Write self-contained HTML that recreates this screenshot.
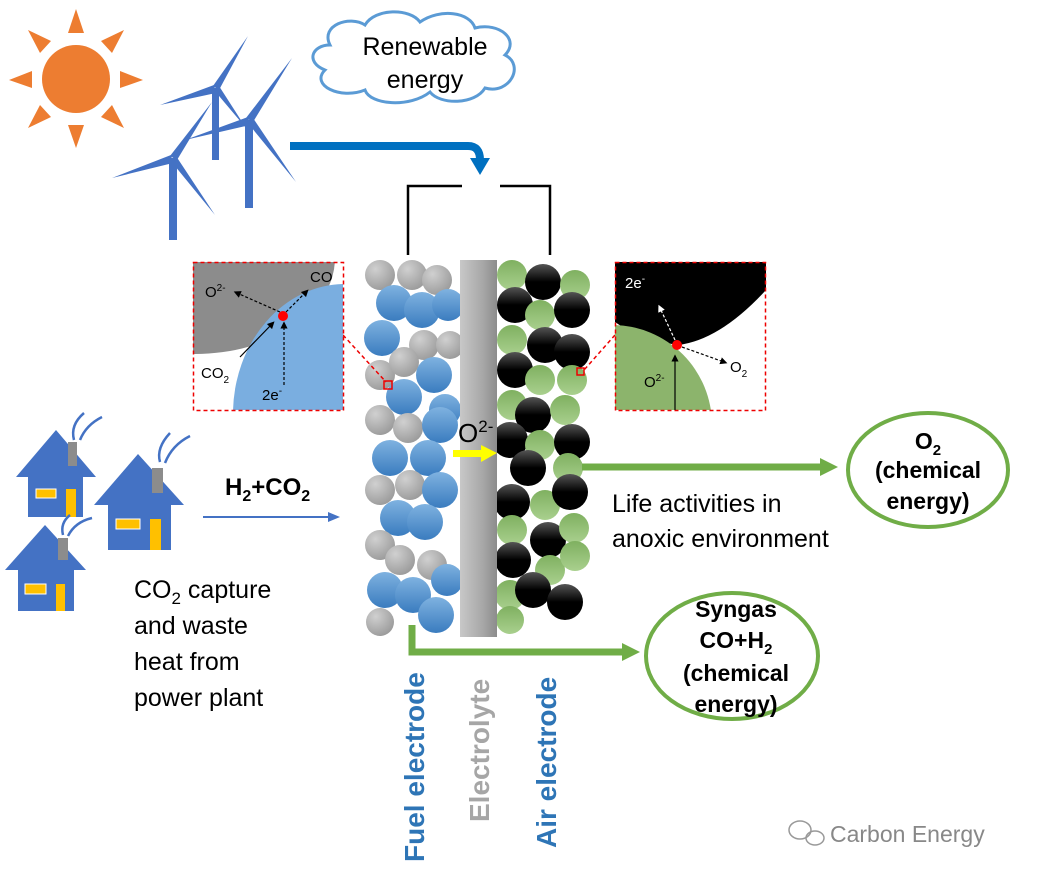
<!DOCTYPE html>
<html><head><meta charset="utf-8"><style>
body{margin:0;background:#fff}
svg{display:block;font-family:"Liberation Sans",Arial,sans-serif}
</style></head><body>
<svg width="1037" height="883" viewBox="0 0 1037 883" xmlns="http://www.w3.org/2000/svg">
<defs>
<radialGradient id="gg" cx="0.35" cy="0.3" r="0.75"><stop offset="0" stop-color="#d0d0d0"/><stop offset="1" stop-color="#9a9a9a"/></radialGradient>
<linearGradient id="bg" x1="0" y1="0" x2="0" y2="1"><stop offset="0" stop-color="#7fb2e0"/><stop offset="1" stop-color="#3a7cbf"/></linearGradient>
<linearGradient id="kg" x1="0" y1="0" x2="0" y2="1"><stop offset="0" stop-color="#555"/><stop offset="0.5" stop-color="#000"/></linearGradient>
<linearGradient id="ng" x1="0" y1="0" x2="0" y2="1"><stop offset="0" stop-color="#7fb060"/><stop offset="1" stop-color="#a9d08e"/></linearGradient>
<linearGradient id="el" x1="0" y1="0" x2="1" y2="0"><stop offset="0" stop-color="#c8c8c8"/><stop offset="0.6" stop-color="#a8a8a8"/><stop offset="1" stop-color="#8c8c8c"/></linearGradient>
<marker id="ab" markerWidth="6" markerHeight="6" refX="3" refY="3" orient="auto"><path d="M0,0L6,3L0,6z" fill="#000"/></marker>
<marker id="aw" markerWidth="6" markerHeight="6" refX="3" refY="3" orient="auto"><path d="M0,0L6,3L0,6z" fill="#fff"/></marker>
</defs>

<!-- sun -->
<circle cx="76" cy="79" r="34" fill="#ed7d31"/>
<g fill="#ed7d31">
<polygon points="68,33 84,33 76,9"/><polygon points="68,125 84,125 76,148"/>
<polygon points="32,71 32,88 9,80"/><polygon points="120,71 120,88 143,80"/>
<polygon points="51,41 40,53 28,30"/><polygon points="101,41 112,53 124,30"/>
<polygon points="51,117 40,105 28,128"/><polygon points="101,117 112,105 124,128"/>
</g>
<!-- turbines -->
<g fill="#4472c4">
<rect x="212" y="88" width="7" height="72"/>
<polygon points="213,86 219,90 248,36"/><polygon points="214,85 216,93 160,105"/><polygon points="214,90 219,86 246,128"/>
<rect x="245" y="120" width="8" height="88"/>
<polygon points="246,118 253,122 292,58"/><polygon points="248,117 250,125 185,140"/><polygon points="247,122 253,118 296,182"/>
<rect x="169" y="158" width="8" height="82"/>
<polygon points="170,156 177,160 212,102"/><polygon points="171,155 173,163 112,178"/><polygon points="170,160 176,156 215,215"/>
</g>
<!-- cloud -->
<path d="M330,45 C320,25 350,15 365,25 C375,8 410,8 420,22 C440,8 470,12 475,28 C500,22 520,40 505,55 C525,65 510,95 485,88 C475,105 440,105 430,92 C410,108 370,105 365,90 C340,100 310,85 325,70 C305,62 312,45 330,45Z" fill="#fff" stroke="#5b9bd5" stroke-width="3"/>
<text x="425" y="55" font-size="25" text-anchor="middle">Renewable</text>
<text x="425" y="88" font-size="25" text-anchor="middle">energy</text>
<!-- blue arrow -->
<path d="M290,146 L468,146 Q480,146 480,160" stroke="#0070c0" stroke-width="8" fill="none"/>
<polygon points="470,158 490,158 480,175" fill="#0070c0"/>
<!-- bracket -->
<path d="M408,255 L408,186 L462,186 M500,186 L550,186 L550,255" stroke="#000" stroke-width="2.5" fill="none"/>

<!-- fuel electrode particles -->
<g>
<circle cx="380" cy="275" r="15" fill="url(#gg)"/><circle cx="412" cy="275" r="15" fill="url(#gg)"/><circle cx="437" cy="280" r="15" fill="url(#gg)"/>
<circle cx="394" cy="303" r="18" fill="url(#bg)"/><circle cx="422" cy="310" r="18" fill="url(#bg)"/><circle cx="448" cy="305" r="16" fill="url(#bg)"/>
<circle cx="382" cy="338" r="18" fill="url(#bg)"/><circle cx="424" cy="345" r="15" fill="url(#gg)"/><circle cx="450" cy="345" r="14" fill="url(#gg)"/>
<circle cx="380" cy="375" r="15" fill="url(#gg)"/><circle cx="404" cy="362" r="15" fill="url(#gg)"/><circle cx="434" cy="375" r="18" fill="url(#bg)"/>
<circle cx="404" cy="397" r="18" fill="url(#bg)"/><circle cx="445" cy="410" r="16" fill="url(#bg)"/>
<circle cx="380" cy="420" r="15" fill="url(#gg)"/><circle cx="408" cy="428" r="15" fill="url(#gg)"/><circle cx="440" cy="425" r="18" fill="url(#bg)"/>
<circle cx="390" cy="458" r="18" fill="url(#bg)"/><circle cx="428" cy="458" r="18" fill="url(#bg)"/>
<circle cx="380" cy="490" r="15" fill="url(#gg)"/><circle cx="410" cy="485" r="15" fill="url(#gg)"/><circle cx="440" cy="490" r="18" fill="url(#bg)"/>
<circle cx="398" cy="518" r="18" fill="url(#bg)"/><circle cx="425" cy="522" r="18" fill="url(#bg)"/>
<circle cx="380" cy="545" r="15" fill="url(#gg)"/><circle cx="400" cy="560" r="15" fill="url(#gg)"/><circle cx="432" cy="565" r="15" fill="url(#gg)"/>
<circle cx="385" cy="590" r="18" fill="url(#bg)"/><circle cx="413" cy="595" r="18" fill="url(#bg)"/><circle cx="447" cy="580" r="16" fill="url(#bg)"/>
<circle cx="380" cy="622" r="14" fill="url(#gg)"/><circle cx="436" cy="615" r="18" fill="url(#bg)"/>
</g>
<!-- air electrode particles -->
<g>
<circle cx="512" cy="275" r="15" fill="url(#ng)"/><circle cx="543" cy="282" r="18" fill="url(#kg)"/><circle cx="575" cy="285" r="15" fill="url(#ng)"/>
<circle cx="515" cy="305" r="18" fill="url(#kg)"/><circle cx="540" cy="315" r="15" fill="url(#ng)"/><circle cx="572" cy="310" r="18" fill="url(#kg)"/>
<circle cx="512" cy="340" r="15" fill="url(#ng)"/><circle cx="545" cy="345" r="18" fill="url(#kg)"/><circle cx="572" cy="352" r="18" fill="url(#kg)"/>
<circle cx="515" cy="370" r="18" fill="url(#kg)"/><circle cx="540" cy="380" r="15" fill="url(#ng)"/><circle cx="572" cy="380" r="15" fill="url(#ng)"/>
<circle cx="512" cy="405" r="15" fill="url(#ng)"/><circle cx="533" cy="415" r="18" fill="url(#kg)"/><circle cx="565" cy="410" r="15" fill="url(#ng)"/>
<circle cx="510" cy="440" r="18" fill="url(#kg)"/><circle cx="540" cy="445" r="15" fill="url(#ng)"/><circle cx="572" cy="442" r="18" fill="url(#kg)"/>
<circle cx="528" cy="468" r="18" fill="url(#kg)"/><circle cx="568" cy="468" r="15" fill="url(#ng)"/>
<circle cx="512" cy="502" r="18" fill="url(#kg)"/><circle cx="545" cy="505" r="15" fill="url(#ng)"/><circle cx="570" cy="492" r="18" fill="url(#kg)"/>
<circle cx="512" cy="530" r="15" fill="url(#ng)"/><circle cx="548" cy="540" r="18" fill="url(#kg)"/><circle cx="574" cy="528" r="15" fill="url(#ng)"/>
<circle cx="513" cy="560" r="18" fill="url(#kg)"/><circle cx="550" cy="570" r="15" fill="url(#ng)"/><circle cx="575" cy="556" r="15" fill="url(#ng)"/>
<circle cx="510" cy="595" r="15" fill="url(#ng)"/><circle cx="533" cy="590" r="18" fill="url(#kg)"/><circle cx="565" cy="602" r="18" fill="url(#kg)"/><circle cx="510" cy="620" r="14" fill="url(#ng)"/>
</g>
<!-- electrolyte -->
<rect x="460" y="260" width="37" height="377" fill="url(#el)"/>
<text x="458" y="442" font-size="26">O<tspan font-size="17" dy="-10">2-</tspan></text>
<rect x="453" y="450" width="30" height="7" fill="#ffff00"/><polygon points="481,445 481,462 497,453" fill="#ffff00"/>

<!-- tiny red squares -->
<rect x="384" y="381" width="8" height="8" fill="none" stroke="#e00" stroke-width="1.5"/>
<rect x="577" y="368" width="7" height="7" fill="none" stroke="#e00" stroke-width="1.5"/>
<line x1="343" y1="335" x2="386" y2="382" stroke="#e00" stroke-width="1.5" stroke-dasharray="4,3"/>
<line x1="615" y1="335" x2="584" y2="370" stroke="#e00" stroke-width="1.5" stroke-dasharray="4,3"/>

<!-- left inset -->
<svg x="193" y="262" width="150" height="148" viewBox="193 262 150 148">
<rect x="193" y="262" width="150" height="148" fill="#fff"/>
<ellipse cx="195" cy="258" rx="140" ry="96" fill="#8c8c8c"/>
<ellipse cx="345" cy="414" rx="112" ry="130" fill="#7aaee0"/>
</svg>
<rect x="193.5" y="262.5" width="150" height="148" fill="none" stroke="#e00" stroke-width="1.5" stroke-dasharray="4,3"/>
<g stroke="#000" stroke-width="1.2" fill="none">
<line x1="280" y1="312" x2="237" y2="293" stroke-dasharray="3,2" marker-end="url(#ab)"/>
<line x1="286" y1="312" x2="306" y2="292" stroke-dasharray="3,2" marker-end="url(#ab)"/>
<line x1="284" y1="385" x2="284" y2="325" stroke-dasharray="3,2" marker-end="url(#ab)"/>
<line x1="240" y1="357" x2="272" y2="324" marker-end="url(#ab)"/>
</g>
<circle cx="283" cy="316" r="5" fill="#f00"/>
<text x="205" y="297" font-size="15">O<tspan font-size="10" dy="-6">2-</tspan></text>
<text x="310" y="282" font-size="15">CO</text>
<text x="201" y="378" font-size="15">CO<tspan font-size="10" dy="5">2</tspan></text>
<text x="262" y="400" font-size="15">2e<tspan font-size="10" dy="-6">-</tspan></text>

<!-- right inset -->
<svg x="615" y="262" width="151" height="148" viewBox="615 262 151 148">
<rect x="615" y="262" width="151" height="148" fill="#fff"/>
<path d="M615,262 L766,262 L766,290 Q720,340 678,345 Q640,340 615,322Z" fill="#000"/>
<circle cx="612" cy="425" r="100" fill="#8cb46c"/>
</svg>
<rect x="615.5" y="262.5" width="150" height="148" fill="none" stroke="#e00" stroke-width="1.5" stroke-dasharray="4,3"/>
<g stroke-width="1.2" fill="none">
<line x1="675" y1="340" x2="660" y2="308" stroke="#fff" stroke-dasharray="3,2" marker-end="url(#aw)"/>
<line x1="682" y1="347" x2="724" y2="362" stroke="#000" stroke-dasharray="3,2" marker-end="url(#ab)"/>
<line x1="675" y1="410" x2="675" y2="358" stroke="#000" marker-end="url(#ab)"/>
</g>
<circle cx="677" cy="345" r="5" fill="#f00"/>
<text x="625" y="288" font-size="15" fill="#fff">2e<tspan font-size="10" dy="-6">-</tspan></text>
<text x="730" y="372" font-size="15">O<tspan font-size="10" dy="5">2</tspan></text>
<text x="644" y="387" font-size="15">O<tspan font-size="10" dy="-6">2-</tspan></text>

<!-- houses -->
<g>
<polygon points="56,430 16,477 96,477" fill="#4472c4"/><rect x="28" y="475" width="55" height="42" fill="#4472c4"/>
<rect x="68" y="442" width="9" height="24" fill="#8c8c8c"/><rect x="36" y="489" width="20" height="9" fill="#ffc000" stroke="#fff"/><rect x="66" y="489" width="10" height="28" fill="#ffc000"/>
<polygon points="138,454 94,505 184,505" fill="#4472c4"/><rect x="108" y="503" width="63" height="47" fill="#4472c4"/>
<rect x="152" y="468" width="11" height="25" fill="#8c8c8c"/><rect x="116" y="519" width="24" height="10" fill="#ffc000" stroke="#fff"/><rect x="150" y="519" width="11" height="31" fill="#ffc000"/>
<polygon points="45,525 5,570 86,570" fill="#4472c4"/><rect x="18" y="568" width="56" height="43" fill="#4472c4"/>
<rect x="58" y="538" width="10" height="22" fill="#8c8c8c"/><rect x="25" y="584" width="21" height="10" fill="#ffc000" stroke="#fff"/><rect x="56" y="584" width="9" height="27" fill="#ffc000"/>
<g stroke="#4472c4" stroke-width="2.5" fill="none">
<path d="M74,440 Q70,425 84,413"/><path d="M80,440 Q86,425 102,417"/>
<path d="M160,462 Q156,448 170,433"/><path d="M165,463 Q172,445 190,436"/>
<path d="M63,535 Q60,523 70,515"/><path d="M68,536 Q75,522 92,518"/>
</g>
</g>
<text x="225" y="495" font-size="24" font-weight="bold">H<tspan font-size="16" dy="6">2</tspan><tspan dy="-6">+CO</tspan><tspan font-size="16" dy="6">2</tspan></text>
<line x1="203" y1="517" x2="330" y2="517" stroke="#4472c4" stroke-width="2"/><polygon points="328,512 340,517 328,522" fill="#4472c4"/>
<g font-size="25">
<text x="134" y="598">CO<tspan font-size="17" dy="6">2</tspan><tspan dy="-6"> capture</tspan></text>
<text x="134" y="634">and waste</text>
<text x="134" y="670">heat from</text>
<text x="134" y="706">power plant</text>
</g>

<!-- right side -->
<line x1="582" y1="467" x2="822" y2="467" stroke="#70ad47" stroke-width="7"/><polygon points="820,458 838,467 820,476" fill="#70ad47"/>
<text x="612" y="512" font-size="25">Life activities in</text>
<text x="612" y="547" font-size="25">anoxic environment</text>
<ellipse cx="928" cy="470" rx="80" ry="57" fill="#fff" stroke="#70ad47" stroke-width="4"/>
<g font-size="23" font-weight="bold" text-anchor="middle">
<text x="928" y="449">O<tspan font-size="15" dy="6">2</tspan></text>
<text x="928" y="478">(chemical</text>
<text x="928" y="509">energy)</text>
</g>
<path d="M412,625 L412,652 L625,652" stroke="#70ad47" stroke-width="7" fill="none"/><polygon points="622,643 640,652 622,661" fill="#70ad47"/>
<ellipse cx="732" cy="656" rx="86" ry="63" fill="#fff" stroke="#70ad47" stroke-width="4"/>
<g font-size="23" font-weight="bold" text-anchor="middle">
<text x="736" y="617">Syngas</text>
<text x="736" y="648">CO+H<tspan font-size="15" dy="6">2</tspan></text>
<text x="736" y="681">(chemical</text>
<text x="736" y="712">energy)</text>
</g>

<!-- vertical labels -->
<g font-size="28" font-weight="bold">
<text transform="translate(424,862) rotate(-90)" fill="#2e75b6">Fuel electrode</text>
<text transform="translate(489,822) rotate(-90)" fill="#a6a6a6">Electrolyte</text>
<text transform="translate(556,848) rotate(-90)" fill="#2e75b6">Air electrode</text>
</g>
<text x="830" y="842" font-size="23" fill="#888">Carbon Energy</text>
<g fill="none" stroke="#999" stroke-width="1.5"><ellipse cx="800" cy="830" rx="11" ry="9"/><ellipse cx="815" cy="838" rx="9" ry="7"/></g>
</svg>
</body></html>
